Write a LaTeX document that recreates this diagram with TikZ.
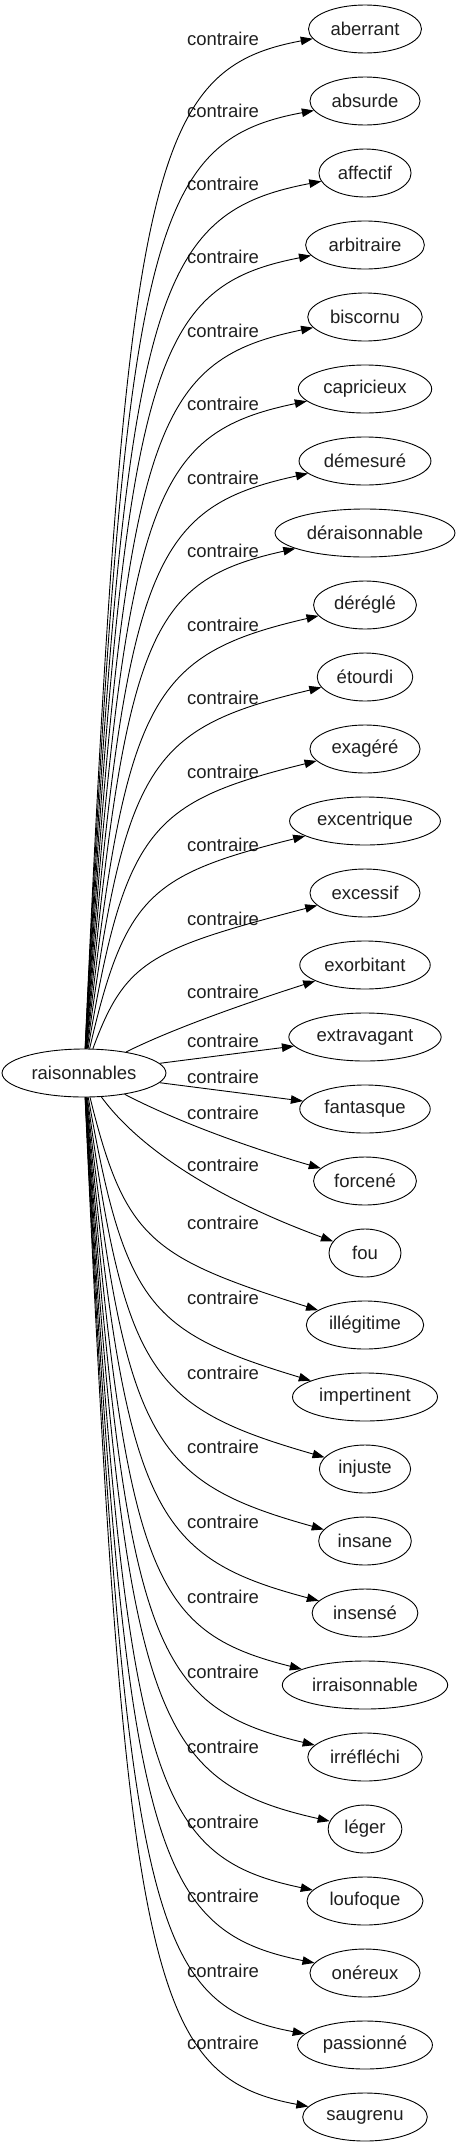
\documentclass[tikz,border=0pt]{standalone}
\usepackage{fontspec}
\setmainfont{Liberation Sans}
\usetikzlibrary{arrows.meta,shapes.geometric}
\definecolor{ink}{HTML}{1F1F1F}

\begin{document}
\begin{tikzpicture}[
  x=1pt, y=-1pt,
  every node/.style={font=\fontsize{18.5}{22}\selectfont, text=ink},
  word/.style={ellipse, draw=black, line width=0.9pt, inner xsep=5.5pt, inner ysep=0pt,
    minimum width=72pt, minimum height=48pt},
  rel/.style={inner sep=0pt},
  link/.style={-{Triangle[length=12pt, width=8.5pt]}, line width=0.9pt, black}
]
\useasboundingbox (0,0) rectangle (457,2147);

%% Source word
\node[word] (raison) at (84,1073) {raisonnables};

%% Opposites, one column at x=365, 72pt apart
\node[word] (aberrant) at (365,29) {aberrant};
\node[word] (absurde) at (365,101) {absurde};
\node[word] (affectif) at (365,173) {affectif};
\node[word] (arbitraire) at (365,245) {arbitraire};
\node[word] (biscornu) at (365,317) {biscornu};
\node[word] (capricieux) at (365,389) {capricieux};
\node[word] (demesure) at (365,461) {démesuré};
\node[word] (deraison) at (365,533) {déraisonnable};
\node[word] (deregle) at (365,605) {déréglé};
\node[word] (etourdi) at (365,677) {étourdi};
\node[word] (exagere) at (365,749) {exagéré};
\node[word] (excentrique) at (365,821) {excentrique};
\node[word] (excessif) at (365,893) {excessif};
\node[word] (exorbitant) at (365,965) {exorbitant};
\node[word] (extravagant) at (365,1037) {extravagant};
\node[word] (fantasque) at (365,1109) {fantasque};
\node[word] (forcene) at (365,1181) {forcené};
\node[word] (fou) at (365,1253) {fou};
\node[word] (illegitime) at (365,1325) {illégitime};
\node[word] (impertinent) at (365,1397) {impertinent};
\node[word] (injuste) at (365,1469) {injuste};
\node[word] (insane) at (365,1541) {insane};
\node[word] (insense) at (365,1613) {insensé};
\node[word] (irraison) at (365,1685) {irraisonnable};
\node[word] (irreflechi) at (365,1757) {irréfléchi};
\node[word] (leger) at (365,1829) {léger};
\node[word] (loufoque) at (365,1901) {loufoque};
\node[word] (onereux) at (365,1973) {onéreux};
\node[word] (passionne) at (365,2045) {passionné};
\node[word] (saugrenu) at (365,2117) {saugrenu};

%% Edge labels (x=223)
\node[rel] (aberrantlbl) at (223,39) {contraire};
\node[rel] (absurdelbl) at (223,111) {contraire};
\node[rel] (affectiflbl) at (223,184) {contraire};
\node[rel] (arbitrairelbl) at (223,257) {contraire};
\node[rel] (biscornulbl) at (223,331) {contraire};
\node[rel] (capricieuxlbl) at (223,404) {contraire};
\node[rel] (demesurelbl) at (223,478) {contraire};
\node[rel] (deraisonlbl) at (223,551) {contraire};
\node[rel] (dereglelbl) at (223,625) {contraire};
\node[rel] (etourdilbl) at (223,698) {contraire};
\node[rel] (exagerelbl) at (223,772) {contraire};
\node[rel] (excentriquelbl) at (223,845) {contraire};
\node[rel] (excessiflbl) at (223,919) {contraire};
\node[rel] (exorbitantlbl) at (223,992) {contraire};
\node[rel] (extravagantlbl) at (223,1041) {contraire};
\node[rel] (fantasquelbl) at (223,1077) {contraire};
\node[rel] (forcenelbl) at (223,1113) {contraire};
\node[rel] (foulbl) at (223,1165) {contraire};
\node[rel] (illegitimelbl) at (223,1223) {contraire};
\node[rel] (impertinentlbl) at (223,1298) {contraire};
\node[rel] (injustelbl) at (223,1373) {contraire};
\node[rel] (insanelbl) at (223,1447) {contraire};
\node[rel] (insenselbl) at (223,1522) {contraire};
\node[rel] (irraisonlbl) at (223,1597) {contraire};
\node[rel] (irreflechilbl) at (223,1672) {contraire};
\node[rel] (legerlbl) at (223,1747) {contraire};
\node[rel] (loufoquelbl) at (223,1822) {contraire};
\node[rel] (onereuxlbl) at (223,1896) {contraire};
\node[rel] (passionnelbl) at (223,1971) {contraire};
\node[rel] (saugrenulbl) at (223,2043) {contraire};

%% Upper fan
\draw[link] (raison) .. controls (125,169) and (150,69) .. (aberrant);
\draw[link] (raison) .. controls (125,234) and (150,141) .. (absurde);
\draw[link] (raison) .. controls (125,300) and (150,214) .. (affectif);
\draw[link] (raison) .. controls (125,366) and (150,287) .. (arbitraire);
\draw[link] (raison) .. controls (125,432) and (150,361) .. (biscornu);
\draw[link] (raison) .. controls (125,498) and (150,434) .. (capricieux);
\draw[link] (raison) .. controls (125,564) and (150,508) .. (demesure);
\draw[link] (raison) .. controls (125,630) and (150,581) .. (deraison);
\draw[link] (raison) .. controls (125,697) and (150,655) .. (deregle);
\draw[link] (raison) .. controls (125,762) and (150,728) .. (etourdi);
\draw[link] (raison) .. controls (125,829) and (150,802) .. (exagere);
\draw[link] (raison) .. controls (125,895) and (150,875) .. (excentrique);
\draw[link] (raison) .. controls (125,961) and (150,949) .. (excessif);

%% Middle, almost straight
\draw[link] (raison) .. controls (170,1030) and (240,1005) .. (exorbitant);
\draw[link] (raison) -- (extravagant);
\draw[link] (raison) -- (fantasque);
\draw[link] (raison) .. controls (170,1118) and (240,1145) .. (forcene);
\draw[link] (raison) .. controls (140,1150) and (220,1200) .. (fou);

%% Lower fan
\draw[link] (raison) .. controls (125,1239) and (150,1257) .. (illegitime);
\draw[link] (raison) .. controls (125,1306) and (150,1332) .. (impertinent);
\draw[link] (raison) .. controls (125,1374) and (150,1407) .. (injuste);
\draw[link] (raison) .. controls (125,1440) and (150,1481) .. (insane);
\draw[link] (raison) .. controls (125,1508) and (150,1556) .. (insense);
\draw[link] (raison) .. controls (125,1575) and (150,1631) .. (irraison);
\draw[link] (raison) .. controls (125,1643) and (150,1706) .. (irreflechi);
\draw[link] (raison) .. controls (125,1710) and (150,1781) .. (leger);
\draw[link] (raison) .. controls (125,1778) and (150,1856) .. (loufoque);
\draw[link] (raison) .. controls (125,1844) and (150,1930) .. (onereux);
\draw[link] (raison) .. controls (125,1912) and (150,2005) .. (passionne);
\draw[link] (raison) .. controls (125,1977) and (150,2077) .. (saugrenu);

\end{tikzpicture}
\end{document}
